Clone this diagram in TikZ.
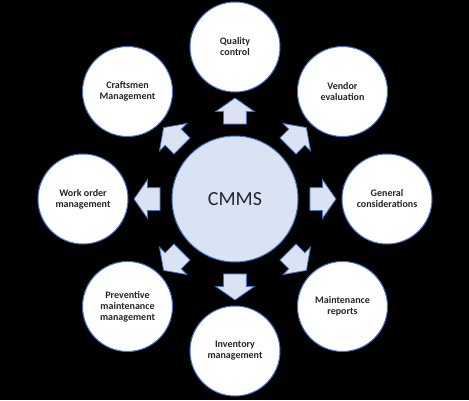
\documentclass[tikz,border=0pt]{standalone}
\usepackage{fontspec}
\setmainfont{Carlito}
\usepackage{xcolor}
\usetikzlibrary{shapes.arrows}
\definecolor{cmmsblue}{RGB}{68,114,196}
\definecolor{cmmsfill}{RGB}{218,227,243}

\begin{document}
\begin{tikzpicture}[x=1pt,y=1pt]
                % C = centre, a* = block arrows pointing out from C
                \fill[black] (-235,-201) rectangle (234,199);
                \useasboundingbox (-235,-201) rectangle (234,199);
                \tikzstyle{every node}=[circle, draw=cmmsblue, line width=1pt, fill=white, minimum size=90pt, inner sep=0pt, align=center, text=black!85, font=\fontsize{10}{11}\selectfont\bfseries, node distance=152pt]
                \tikzstyle{blockarrow}=[single arrow, draw=cmmsblue, line width=0.8pt, fill=cmmsfill, inner xsep=0pt, inner ysep=11pt, minimum height=26pt, minimum width=38pt, single arrow head extend=8pt, single arrow tip angle=110, node distance=84pt]
                \node (C) at (0, 0) [fill=cmmsfill, minimum size=126pt, font=\fontsize{20}{24}\selectfont] {CMMS};
                \node (Q) [above of = C] {Quality\\control};
                \node (V) [above right of = C] {Vendor\\evaluation};
                \node (G) [right of = C] {General\\considerations};
                \node (R) [below right of = C] {Maintenance\\reports};
                \node (I) [below of = C] {Inventory\\management};
                \node (P) [below left of = C] {Preventive\\maintenance\\management};
                \node (W) [left of = C] {Work order\\management};
                \node (M) [above left of = C] {Craftsmen\\Management};
                \node (a1) [blockarrow, above of = C, rotate=90] {};
                \node (a2) [blockarrow, above right of = C, rotate=45] {};
                \node (a3) [blockarrow, right of = C, rotate=0] {};
                \node (a4) [blockarrow, below right of = C, rotate=-45] {};
                \node (a5) [blockarrow, below of = C, rotate=-90] {};
                \node (a6) [blockarrow, below left of = C, rotate=-135] {};
                \node (a7) [blockarrow, left of = C, rotate=180] {};
                \node (a8) [blockarrow, above left of = C, rotate=135] {};
        \end{tikzpicture}
\end{document}
